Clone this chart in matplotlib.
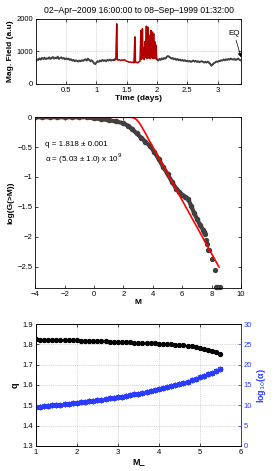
import numpy as np
import matplotlib
matplotlib.use("Agg")
import matplotlib.pyplot as plt

plt.rcParams["font.family"] = ["Liberation Sans", "DejaVu Sans"]
plt.rcParams["font.size"] = 5.5

# ==========================================
# 1) data (read off the reference)
# ==========================================
# top panel: magnetic field time series
gray1_t = np.arange(66) * 0.02
gray1_v = [700, 760, 740, 790, 750, 800, 770, 810, 760, 790, 780,
           820, 770, 800, 830, 780, 810, 790, 840, 770, 800, 820, 780, 800, 760,
           790, 760, 780, 740, 760, 720, 740, 700, 730, 710, 690, 720, 700, 730, 710,
           740, 760, 720, 780, 740, 700, 730, 690, 640, 610,
           660, 700, 680, 720, 700, 740, 710, 730, 700, 740, 720, 750, 720, 740, 730, 760]
gray2_t = 2.0 + np.arange(70) * 0.02
gray2_v = [760, 720, 770, 740, 790, 760, 800, 780, 830, 860,
           840, 810, 780, 800, 760, 780, 740, 770, 730, 750, 720, 740, 710, 730, 700,
           720, 690, 710, 680, 700, 720, 690, 710, 680, 700, 670, 690, 700, 680, 660,
           680, 660, 690, 650, 620, 560, 600, 640, 660, 690,
           680, 710, 700, 730, 720, 750, 730, 760, 740, 770, 750, 780, 760, 750, 770,
           740, 760, 780, 750, 730]
red_t = [1.30, 1.32, 1.335, 1.345, 1.36, 1.38, 1.40, 1.42, 1.44, 1.46, 1.48, 1.50,
         1.52, 1.54, 1.56, 1.58, 1.60, 1.62, 1.635, 1.645, 1.66, 1.68, 1.70, 1.72,
         1.735, 1.745, 1.76, 1.77, 1.78, 1.79, 1.80, 1.81, 1.825, 1.835, 1.85, 1.86,
         1.875, 1.885, 1.90, 1.91, 1.925, 1.935, 1.945, 1.955, 1.965, 1.975, 1.985,
         1.995, 2.0]
red_v = [740, 750, 1850, 760, 730, 750, 720, 740, 730, 750, 720, 700,
         690, 670, 680, 660, 670, 650, 1450, 660, 670, 650, 680, 700,
         1650, 750, 1700, 800, 1100, 750, 1300, 820, 1780, 780, 1750, 800,
         1500, 780, 1650, 800, 1600, 780, 1550, 800, 1300, 780, 1200,
         780, 760]

# middle panel: log(G(>M)) vs M
m_dense = [-4, -3.5, -3, -2.5, -2, -1.5, -1, -0.5, 0, 0.5, 1, 1.5, 2, 2.3, 2.6, 2.9,
           3.2, 3.5, 3.8, 4.1, 4.4, 4.7, 5.0, 5.3, 5.6, 5.8, 6.0, 6.2, 6.4, 6.6, 6.8,
           7.0, 7.2, 7.4, 7.5]
g_dense = [0, 0, 0, 0, 0, 0, 0, 0, -0.02, -0.03, -0.05, -0.07, -0.1, -0.14, -0.2, -0.27,
           -0.34, -0.41, -0.48, -0.58, -0.7, -0.83, -0.95, -1.08, -1.2, -1.25, -1.3,
           -1.33, -1.37, -1.48, -1.6, -1.7, -1.8, -1.88, -1.93]
m_tail = [7.55, 7.62, 7.7, 7.78, 7.85, 8.0, 8.2, 8.3, 8.38, 8.46, 8.54]
g_tail = [-1.95, -2.05, -2.13, -2.22, -2.22, -2.37, -2.56, -2.85, -2.85, -2.85, -2.85]
m_fit = [-4, 2.5, 2.7, 2.9, 3.1, 3.3, 3.5, 4.0, 8.5]
g_fit = [0, 0, -0.01, -0.04, -0.1, -0.18, -0.27, -0.5, -2.51]

# bottom panel: q and log10(alpha) vs M_c
mc = np.round(np.arange(46) * 0.1 + 1.0, 1)
q_vals = [1.824, 1.823, 1.823, 1.822, 1.822, 1.821, 1.821, 1.820, 1.820, 1.819, 1.819,
          1.818, 1.818, 1.817, 1.816, 1.816, 1.815, 1.814, 1.813, 1.813, 1.812,
          1.811, 1.811, 1.810, 1.809, 1.809, 1.808, 1.807, 1.806, 1.805, 1.804,
          1.803, 1.802, 1.801, 1.799, 1.798, 1.796, 1.794, 1.791, 1.787, 1.783,
          1.779, 1.774, 1.768, 1.761, 1.754]
alpha_vals = [9.6, 9.7, 9.8, 9.9, 10.0, 10.1, 10.2, 10.3, 10.4, 10.5, 10.6,
              10.7, 10.8, 10.95, 11.1, 11.25, 11.4, 11.55, 11.7, 11.85, 12.0,
              12.15, 12.3, 12.5, 12.7, 12.9, 13.1, 13.3, 13.5, 13.7, 13.95,
              14.2, 14.45, 14.7, 14.95, 15.25, 15.55, 15.85, 16.15, 16.5, 16.85,
              17.2, 17.6, 18.0, 18.4, 18.9]

GRAY = "#404040"
DARKRED = "#b00000"
BLUE = "#2a3cff"

fig = plt.figure(figsize=(2.74, 4.71), dpi=100)


def style(ax):
    ax.tick_params(direction="in", length=2, width=0.5, pad=2, labelsize=5.5,
                   top=True, right=True)
    for s in ax.spines.values():
        s.set_linewidth(0.6)


# ==========================================
# 2) top panel
# ==========================================
ax1 = fig.add_axes([0.131, 0.8217, 0.749, 0.138])
ax1.plot(gray1_t, gray1_v, color=GRAY, lw=1.4)
ax1.plot(gray2_t, gray2_v, color=GRAY, lw=1.4)
ax1.plot(red_t, red_v, color=DARKRED, lw=1.1)
ax1.set_xlim(0, 3.39)
ax1.set_ylim(0, 2000)
ax1.set_xticks([0.5, 1, 1.5, 2, 2.5, 3])
ax1.set_xticklabels(["0.5", "1", "1.5", "2", "2.5", "3"])
ax1.set_yticks([0, 1000, 2000])
ax1.grid(True, linestyle=":", linewidth=0.5, color="#b0b0b0")
style(ax1)
ax1.set_xlabel("Time (days)", fontweight="bold", fontsize=6, labelpad=1)
ax1.set_ylabel("Mag. Field (a.u)", fontweight="bold", fontsize=6, labelpad=2)
ax1.set_title("02\u2013Apr\u20132009 16:00:00 to 08\u2013Sep\u20131999 01:32:00",
              fontsize=6.2, pad=4)
ax1.annotate("EQ", xy=(3.39, 820), xytext=(3.18, 1500), fontsize=5.8,
             arrowprops=dict(arrowstyle="-|>", color="black", lw=0.5,
                             mutation_scale=6, shrinkA=0, shrinkB=0))

# ==========================================
# 3) middle panel
# ==========================================
ax2 = fig.add_axes([0.128, 0.3885, 0.752, 0.3625])
ax2.plot(m_dense, g_dense, "-o", color=GRAY, lw=3.0, markersize=3)
ax2.plot(m_tail, g_tail, "o", color=GRAY, markersize=2.8, clip_on=False)
ax2.plot(m_fit, g_fit, color="red", lw=1.2)
ax2.set_xlim(-4, 10)
ax2.set_ylim(-2.86, 0)
ax2.set_xticks([-4, -2, 0, 2, 4, 6, 8, 10])
ax2.set_yticks([-2.5, -2, -1.5, -1, -0.5, 0])
ax2.set_yticklabels(["\u22122.5", "\u22122", "\u22121.5", "\u22121", "\u22120.5", "0"])
style(ax2)
ax2.text(-3.35, -0.46, "q = 1.818 \u00b1 0.001", fontsize=5.8, va="center")
ax2.text(-3.35, -0.7, "\u03b1 = (5.03 \u00b1 1.0) x 10$^{9}$", fontsize=5.8, va="center")
ax2.set_xlabel("M", fontweight="bold", fontsize=6, labelpad=1)
ax2.set_ylabel("log(G(>M))", fontweight="bold", fontsize=6, labelpad=2)

# ==========================================
# 4) bottom panel
# ==========================================
ax3 = fig.add_axes([0.131, 0.0531, 0.748, 0.259])
ax3.plot(mc, q_vals, "o", color="black", markersize=2.8)
ax3.set_xlim(1, 6)
ax3.set_ylim(1.3, 1.9)
ax3.set_xticks([1, 2, 3, 4, 5, 6])
ax3.set_yticks([1.3, 1.4, 1.5, 1.6, 1.7, 1.8, 1.9])
ax3.grid(True, linestyle=":", linewidth=0.5, color="#b0b0b0")
style(ax3)
ax3.tick_params(right=False)
ax3.set_ylabel("q", fontweight="bold", fontsize=6.5, labelpad=2)
ax3.set_xlabel("M_", fontweight="bold", fontsize=6.5, labelpad=1)

ax4 = ax3.twinx()
ax4.plot(mc, alpha_vals, marker=(8, 2, 0), linestyle="none", color=BLUE,
         markersize=4, markeredgewidth=1.0)
ax4.set_ylim(0, 30)
ax4.set_yticks([0, 5, 10, 15, 20, 25, 30])
ax4.tick_params(direction="in", length=2, width=0.5, pad=2, labelsize=5.5,
                colors=BLUE)
ax4.spines["right"].set_color(BLUE)
for s in ax4.spines.values():
    s.set_linewidth(0.6)
ax4.set_ylabel("log$_{10}$(\u03b1)", fontweight="bold", fontsize=6.5,
               color=BLUE, labelpad=2)

plt.savefig("out.png", dpi=100)
